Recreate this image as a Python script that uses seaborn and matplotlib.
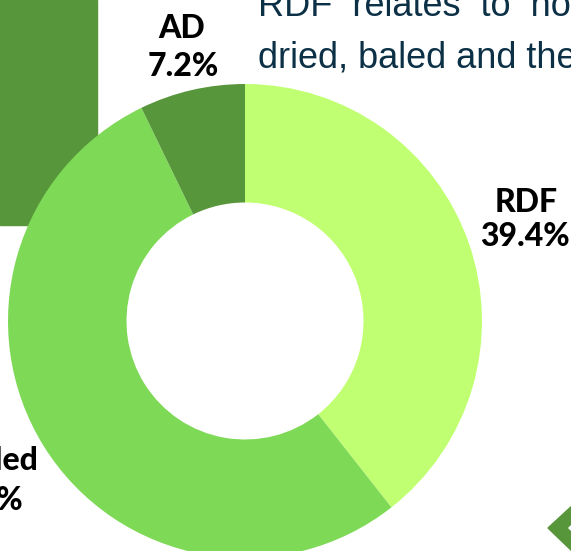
import matplotlib
matplotlib.use("Agg")
import matplotlib.pyplot as plt
import seaborn as sns
from matplotlib.patches import Rectangle, Polygon

categories = ["RDF", "Baled", "AD"]
shares = [39.4, 53.4, 7.2]
palette = ["#c1ff72", "#7ed957", "#57963a"]

# text fragments visible at the top right of the page
body_lines = ["RDF  relates  to  non-recyclable", "dried, baled and then"]

sns.set_theme(style="white")
plt.rcParams["font.family"] = ["Lato", "DejaVu Sans"]

W, H = 571, 551
fig = plt.figure(figsize=(W / 100, H / 100), dpi=100)
ax = fig.add_axes([0, 0, 1, 1])

# background decoration: dark green block on the left
ax.add_patch(Rectangle((0, H - 225), 97, 225, color="#57963a", zorder=0))

# arrow shape at the bottom right
ax.add_patch(Polygon([(548, H - 528), (573, H - 505), (573, H - 522),
                      (567, H - 528), (573, H - 534), (573, H - 552)],
                     closed=True, color="#57963a", zorder=1))

# donut
cx, cy, R = 245, H - 321, 237
ax.pie(shares, colors=palette, startangle=90, counterclock=False,
       center=(cx, cy), radius=R, frame=True,
       wedgeprops=dict(width=R * 0.5, linewidth=0))
ax.set_xlim(0, W)
ax.set_ylim(0, H)
ax.set_aspect("equal")
ax.axis("off")

# paragraph text
for i, line in enumerate(body_lines):
    ax.text(258, H - 16 - 51 * i, line, fontsize=26, color="#0c3046",
            family=["Liberation Sans", "DejaVu Sans"], va="baseline", ha="left")

# labels
lab = dict(fontsize=23, fontweight="black", color="#000000", va="center")
pct = {c: f"{v}%" for c, v in zip(categories, shares)}
ax.text(182, H - 29, "AD", ha="center", **lab)
ax.text(183, H - 66, pct["AD"], ha="center", **lab)
ax.text(526, H - 202, "RDF", ha="center", **lab)
ax.text(525, H - 236, pct["RDF"], ha="center", **lab)
ax.text(39, H - 461, "Baled", ha="right", **lab)
ax.text(23, H - 501, pct["Baled"], ha="right", **lab)

fig.savefig("out.png", dpi=100)
